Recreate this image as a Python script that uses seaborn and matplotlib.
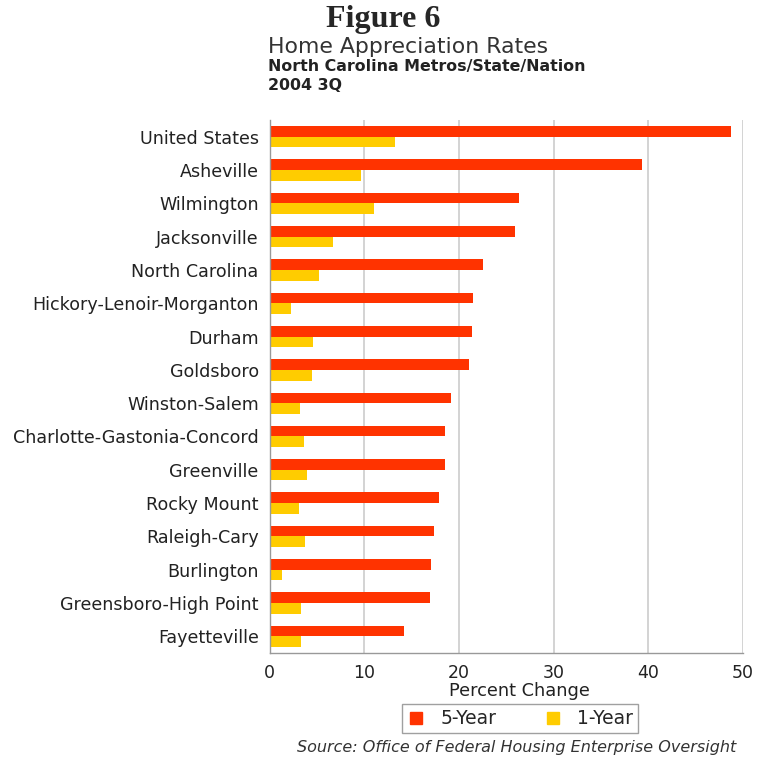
import matplotlib
matplotlib.use("Agg")
import matplotlib.pyplot as plt
from matplotlib.lines import Line2D
import seaborn as sns
import numpy as np
import pandas as pd

categories = ["United States", "Asheville", "Wilmington", "Jacksonville", "North Carolina",
              "Hickory-Lenoir-Morganton", "Durham", "Goldsboro", "Winston-Salem",
              "Charlotte-Gastonia-Concord", "Greenville", "Rocky Mount", "Raleigh-Cary",
              "Burlington", "Greensboro-High Point", "Fayetteville"]
five_year = [48.8, 39.3, 26.3, 25.9, 22.5, 21.5, 21.4, 21.1, 19.2, 18.5, 18.5, 17.9, 17.4, 17.0, 16.9, 14.2]
one_year = [13.2, 9.6, 11.0, 6.7, 5.2, 2.2, 4.6, 4.5, 3.2, 3.6, 3.9, 3.1, 3.7, 1.3, 3.3, 3.3]
series = ["5-Year", "1-Year"]
colors = ["#FF3300", "#FFCC00"]
xticks = [0, 10, 20, 30, 40, 50]

df = pd.DataFrame({
    "Area": categories * 2,
    "Value": five_year + one_year,
    "Series": [series[0]] * len(categories) + [series[1]] * len(categories),
})

sns.set_style("white")
plt.rcParams["font.family"] = ["DejaVu Sans"]

fig = plt.figure(figsize=(7.58, 7.60), dpi=100)
ax = fig.add_axes([0.356, 0.1408, 0.624, 0.7012])

sns.barplot(data=df, y="Area", x="Value", hue="Series", order=categories,
            hue_order=series, palette=colors, orient="h", width=0.64,
            saturation=1, linewidth=0, ax=ax, legend=False)

ax.set_xlim(0, 50)
ax.set_ylim(len(categories) - 0.5, -0.5)
ax.set_xticks(xticks)
ax.set_xticklabels([str(t) for t in xticks], fontsize=12.5, color="#222222")
ax.set_yticks(range(len(categories)))
ax.set_yticklabels(categories, fontsize=12.6, color="#222222")
ax.set_yticks(np.arange(-0.5, len(categories), 1), minor=True)
ax.tick_params(axis="y", which="major", length=0, pad=8)
ax.tick_params(axis="y", which="minor", length=4, color="#999999", width=1)
ax.tick_params(axis="x", which="major", length=5, color="#999999", width=1, pad=3)
ax.xaxis.grid(True, color="#CCCCCC", linewidth=1.2)
ax.set_axisbelow(True)
for s in ["top", "right"]:
    ax.spines[s].set_visible(False)
for s in ["left", "bottom"]:
    ax.spines[s].set_color("#999999")
    ax.spines[s].set_linewidth(1)
ax.set_ylabel("")
ax.set_xlabel("Percent Change", fontsize=12.8, color="#222222")
ax.xaxis.set_label_coords(0.527, -0.054)

fig.text(0.505, 0.975, "Figure 6", fontsize=23, fontweight="bold",
         family=["Liberation Serif", "DejaVu Serif"], ha="center", va="center")
fig.text(0.353, 0.938, "Home Appreciation Rates", fontsize=15.8, color="#333333",
         ha="left", va="center")
fig.text(0.353, 0.912, "North Carolina Metros/State/Nation", fontsize=11.4,
         fontweight="bold", color="#222222", ha="left", va="center")
fig.text(0.353, 0.887, "2004 3Q", fontsize=11.4, fontweight="bold", color="#222222",
         ha="left", va="center")

handles = [Line2D([], [], marker="s", linestyle="none", markersize=8,
                  markerfacecolor=c, markeredgecolor=c) for c in colors]
leg = fig.legend(handles, series, loc="center", bbox_to_anchor=(0.686, 0.0545),
                 ncol=2, fontsize=13.5, frameon=True, fancybox=False,
                 edgecolor="#888888", handletextpad=0.8, columnspacing=2.5,
                 borderpad=0.25, handlelength=1.0)
leg.get_frame().set_linewidth(1)

fig.text(0.682, 0.016, "Source: Office of Federal Housing Enterprise Oversight",
         fontsize=11.5, style="italic", color="#333333", ha="center", va="center")

fig.savefig("out.png", dpi=100)
